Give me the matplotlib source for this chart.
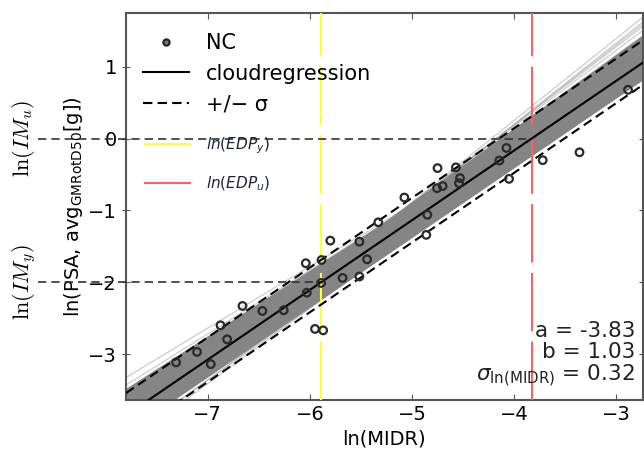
import numpy as np
import matplotlib
matplotlib.use("Agg")
import matplotlib.pyplot as plt
from matplotlib.lines import Line2D

# cloud data: ln(MIDR) vs ln(PSA)
midr = [-7.31, -7.105, -6.97, -6.875, -6.81, -6.66, -6.465, -6.256, -6.03, -6.04,
        -5.886, -5.95, -5.87, -5.89, -5.80, -5.515, -5.68, -5.515, -5.44, -5.33,
        -5.075, -4.85, -4.86, -4.75, -4.755, -4.70, -4.57, -4.53, -4.54, -4.145,
        -4.075, -4.05, -3.72, -3.36, -2.885]
psa = [-3.116, -2.97, -3.14, -2.60, -2.795, -2.33, -2.40, -2.39, -2.145, -1.735,
       -1.69, -2.65, -2.67, -2.01, -1.42, -1.435, -1.94, -1.92, -1.68, -1.165,
       -0.82, -1.06, -1.34, -0.41, -0.69, -0.66, -0.40, -0.55, -0.62, -0.305,
       -0.13, -0.56, -0.30, -0.19, 0.68]

# regression ln(EDP) = a + b ln(IM)
a, b, sigma = -3.83, 1.03, 0.32
im_y, im_u = -2.0, 0.0

# sampled regression lines: offset at pivot and slope (dark core / light fan)
pivot = -5.3
core_off = [-0.24, 0.24, 0.24]
core_slope = [0.971, 1.03, 0.915]
fan_off = [0.22, 0.20, 0.18, 0.16, 0.20, 0.25, 0.22, -0.20, -0.18, -0.22]
fan_slope = [1.06, 1.09, 1.11, 1.13, 1.14, 0.86, 0.89, 1.05, 1.03, 1.01]

xlim = (-7.8, -2.74)
ylim = (-3.64, 1.75)

fig = plt.figure(figsize=(6.44, 4.54), dpi=100)
ax = fig.add_axes([0.1957, 0.1189, 0.8025, 0.8525])

xs = np.linspace(xlim[0], xlim[1], 200)
ylin = (xs - a) / b
y_piv = (pivot - a) / b

for off, m in zip(fan_off, fan_slope):
    ax.plot(xs, y_piv + off + m * (xs - pivot), color="0.6", alpha=0.45, lw=1, zorder=1)

core = np.array([y_piv + off + m * (xs - pivot) for off, m in zip(core_off, core_slope)])
ax.fill_between(xs, core.min(axis=0), core.max(axis=0), color="#858585", lw=0, zorder=2)

ax.plot(xs, ylin, color="black", lw=1.5, zorder=4)
ax.plot(xs, (xs - a + sigma) / b, color="black", lw=1.5, ls=(0, (4.5, 2.5)), zorder=4)
ax.plot(xs, (xs - a - sigma) / b, color="black", lw=1.5, ls=(0, (4.5, 2.5)), zorder=4)

ax.scatter(midr, psa, s=30, facecolors="none", edgecolors="#2a2a2a", linewidths=1.6, zorder=5)

x_y = a + b * im_y
x_u = a + b * im_u
ax.axvline(x_y, color="#ffff33", lw=1.5, ls=(0, (28, 5)), zorder=3)
ax.axvline(x_u, color="#ff6060", lw=1.5, ls=(0, (28, 5)), zorder=3)

# IM thresholds, drawn out past the left spine
x_out = -8.66
ax.plot([x_out, x_y], [im_y, im_y], color="#333333", lw=1.2, ls=(0, (5, 3)), clip_on=False, zorder=3)
ax.plot([x_out, x_u], [im_u, im_u], color="#333333", lw=1.2, ls=(0, (5, 3)), clip_on=False, zorder=3)
ax.text(-8.8, im_u, r"$\ln(IM_u)$", rotation=90, ha="center", va="center",
        fontsize=16, math_fontfamily="cm")
ax.text(-8.8, im_y, r"$\ln(IM_y)$", rotation=90, ha="center", va="center",
        fontsize=16, math_fontfamily="cm")

ax.set_xlim(xlim)
ax.set_ylim(ylim)
ax.set_xticks([-7, -6, -5, -4, -3])
ax.set_yticks([-3, -2, -1, 0, 1])
ax.tick_params(axis="x", direction="in", top=True, length=4, labelsize=14, color="#555555")
ax.tick_params(axis="y", direction="inout", right=True, length=6, labelsize=14, color="#555555")
for s in ax.spines.values():
    s.set_color("#555555")
    s.set_linewidth(1.5)

ax.set_xlabel("ln(MIDR)", fontsize=14)
ax.set_ylabel(r"ln(PSA, avg$_{\mathregular{GMRotD50}}$[g])", fontsize=14, labelpad=2)

ax.text(0.985, 0.028,
        "a = -3.83\nb = 1.03\n" + r"$\sigma_{\mathregular{ln(MIDR)}}$ = 0.32",
        transform=ax.transAxes, ha="right", va="bottom", fontsize=15.5,
        linespacing=1.05, color="#222222", zorder=6)

handles = [
    Line2D([], [], ls="none", marker="o", ms=4.5, mfc="#777777", mec="#222222", mew=1.5),
    Line2D([], [], color="black", lw=1.5),
    Line2D([], [], color="black", lw=1.5, ls=(0, (4.5, 2.5))),
    Line2D([], [], color="#ffff33", lw=1.5),
    Line2D([], [], color="#ff6060", lw=1.5),
]
labels = ["NC", "cloudregression", "+/− σ", r"$\it{ln(EDP_y)}$", r"$\it{ln(EDP_u)}$"]
leg1 = ax.legend(handles[:3], labels[:3], loc="upper left", frameon=False, fontsize=15,
                 handlelength=2.2, labelspacing=0.5, borderaxespad=0.3,
                 bbox_to_anchor=(0.005, 0.985))
ax.add_artist(leg1)
leg2 = ax.legend(handles[3:], labels[3:], loc="upper left", frameon=False, fontsize=11,
                 handlelength=2.95, handletextpad=1.1, labelspacing=1.25, borderaxespad=0,
                 bbox_to_anchor=(0.024, 0.70))
for t in leg2.get_texts():
    t.set_color("#1c2340")

fig.savefig("out.png", dpi=100)
